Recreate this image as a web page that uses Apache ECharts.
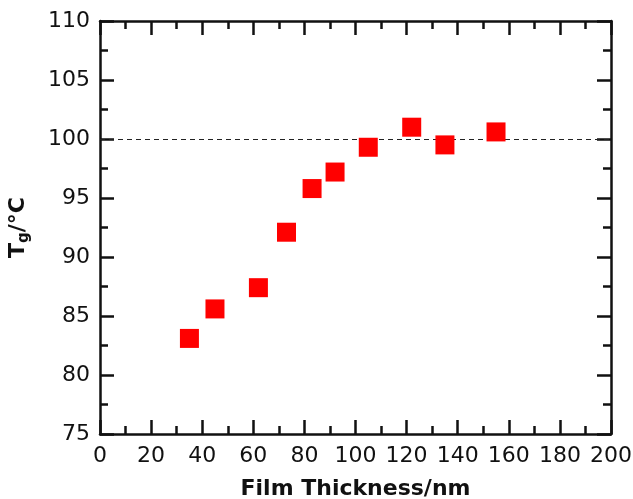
<!DOCTYPE html>
<html>
<head>
<meta charset="utf-8">
<script src="https://cdn.jsdelivr.net/npm/echarts@6/dist/echarts.min.js"></script>
<style>
  html, body { margin: 0; padding: 0; background: #fff; }
  #chart { width: 633px; height: 499px; }
</style>
</head>
<body>
<div id="chart"></div>
<script>
// Glass transition temperature vs. film thickness
const thickness = [35, 45, 62, 73, 83, 92, 105, 122, 135, 155];
const tg = [83.1, 85.6, 87.4, 92.1, 95.8, 97.2, 99.3, 101.0, 99.5, 100.6];
const bulkTg = 100;
const xTicks = { min: 0, max: 200, interval: 20 };
const yTicks = { min: 75, max: 110, interval: 5 };

const font = '"DejaVu Sans", Verdana, sans-serif';
const ink = '#111';

function frameAxis(pos, range, showLabels) {
  return {
    type: 'value',
    position: pos,
    min: range.min,
    max: range.max,
    interval: range.interval,
    axisLine: { show: true, onZero: false, lineStyle: { color: ink, width: 2.5 } },
    axisTick: { show: true, inside: true, length: 14, lineStyle: { color: ink, width: 2.5 } },
    minorTick: { show: true, splitNumber: 2, length: 8, lineStyle: { color: ink, width: 2.5 } },
    splitLine: { show: false },
    minorSplitLine: { show: false },
    axisLabel: {
      show: showLabels,
      color: ink,
      fontSize: 22,
      fontFamily: font,
      margin: 10
    }
  };
}

const chart = echarts.init(document.getElementById('chart'));

const xBottom = frameAxis('bottom', xTicks, true);
xBottom.axisLabel.margin = 11;
xBottom.name = 'Film Thickness/nm';
xBottom.nameLocation = 'middle';
xBottom.nameGap = 44;
xBottom.nameTextStyle = { fontSize: 22, fontWeight: 'bold', fontFamily: font, color: ink };

const yLeft = frameAxis('left', yTicks, true);
yLeft.axisLabel.margin = 10;
yLeft.name = 'T{sub|g}/°C';
yLeft.nameLocation = 'middle';
yLeft.nameGap = 68;
yLeft.nameTextStyle = {
  fontSize: 22, fontWeight: 'bold', fontFamily: font, color: ink,
  rich: {
    sub: { fontSize: 15, fontWeight: 'bold', fontFamily: font, color: ink, padding: [12, 0, 0, 0] }
  }
};

chart.setOption({
  animation: false,
  backgroundColor: '#fff',
  grid: { left: 100, right: 22, top: 21, bottom: 65, containLabel: false, outerBoundsMode: 'none' },
  xAxis: [xBottom, frameAxis('top', xTicks, false)],
  yAxis: [yLeft, frameAxis('right', yTicks, false)],
  series: [{
    type: 'scatter',
    xAxisIndex: 0,
    yAxisIndex: 0,
    symbol: 'rect',
    symbolSize: 19,
    itemStyle: { color: '#ff0000', opacity: 1 },
    data: thickness.map((t, i) => [t, tg[i]]),
    z: 3,
    markLine: {
      silent: true,
      symbol: ['none', 'none'],
      label: { show: false },
      lineStyle: { type: [5, 4], color: '#222', width: 1.2 },
      data: [{ yAxis: bulkTg }],
      z: 2
    }
  }]
});
</script>
</body>
</html>
